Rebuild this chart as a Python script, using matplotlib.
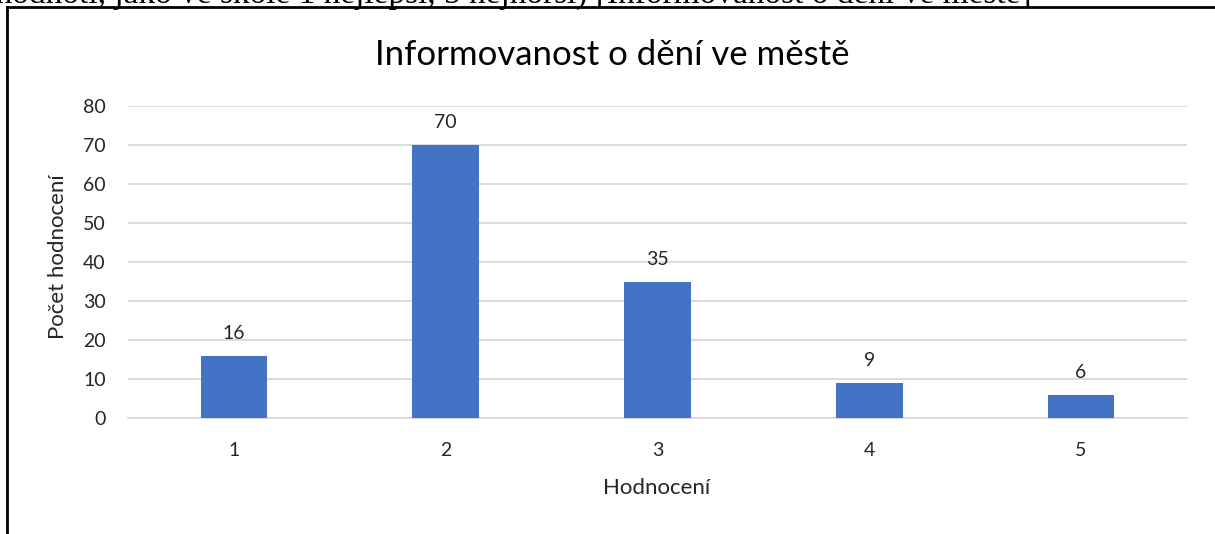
import matplotlib.pyplot as plt
from matplotlib.lines import Line2D

# hodnocení 1 (nejlepší) až 5 (nejhorší)
ratings = ['1', '2', '3', '4', '5']
counts = [16, 70, 35, 9, 6]
y_ticks = [0, 10, 20, 30, 40, 50, 60, 70, 80]

title = 'Informovanost o dění ve městě'
question_tail = 'ohodnotí, jako ve škole 1 nejlepší, 5 nejhorší) [Informovanost o dění ve městě]'

plt.rcParams['font.family'] = ['Lato', 'DejaVu Sans']

W, H = 1215, 534
fig = plt.figure(figsize=(W / 100, H / 100), dpi=100)
ax = fig.add_axes([128 / W, 1 - 418 / H, (1187 - 128) / W, (418 - 106) / H])

x = range(len(ratings))
bars = ax.bar(x, counts, width=0.315, color='#4472c4', zorder=3)
for rect, v in zip(bars, counts):
    ax.annotate(str(v), (rect.get_x() + rect.get_width() / 2, v),
                xytext=(0, 10), textcoords='offset points',
                ha='center', va='bottom', fontsize=14, color='#262626')

ax.set_xlim(-0.5, len(ratings) - 0.5)
ax.set_ylim(0, 80)
ax.set_xticks(list(x))
ax.set_xticklabels(ratings)
ax.set_yticks(y_ticks)
ax.tick_params(axis='both', length=0, labelsize=14, labelcolor='#262626')
ax.tick_params(axis='x', pad=17)
ax.tick_params(axis='y', pad=16)
ax.grid(axis='y', color='#d9d9d9', linewidth=1.3, zorder=0)
for s in ['top', 'right', 'left']:
    ax.spines[s].set_visible(False)
ax.spines['bottom'].set_color('#d9d9d9')
ax.spines['bottom'].set_linewidth(1.3)

# popisky os
fig.text(657 / W, 1 - 488 / H, 'Hodnocení', ha='center', va='center',
         fontsize=16, color='#262626')
fig.text(58 / W, 1 - 257 / H, 'Počet hodnocení', ha='center', va='center',
         rotation=90, fontsize=16, color='#262626')
fig.text(612 / W, 1 - 55 / H, title, ha='center', va='center',
         fontsize=25, color='#000000')

# zbytek textu otázky nad grafem (useknutý horním okrajem)
fig.text(1032 / W, 1 - 3 / H, question_tail, ha='right', va='baseline',
         fontsize=24, family='Liberation Serif', color='#000000')

# rámeček kolem grafu
fig.add_artist(Line2D([7 / W, 7 / W], [0, 1 - 7 / H], color='black',
                      linewidth=2, transform=fig.transFigure))
fig.add_artist(Line2D([7 / W, 1], [1 - 7 / H, 1 - 7 / H], color='black',
                      linewidth=2, transform=fig.transFigure))

fig.savefig('out.png', dpi=100)
